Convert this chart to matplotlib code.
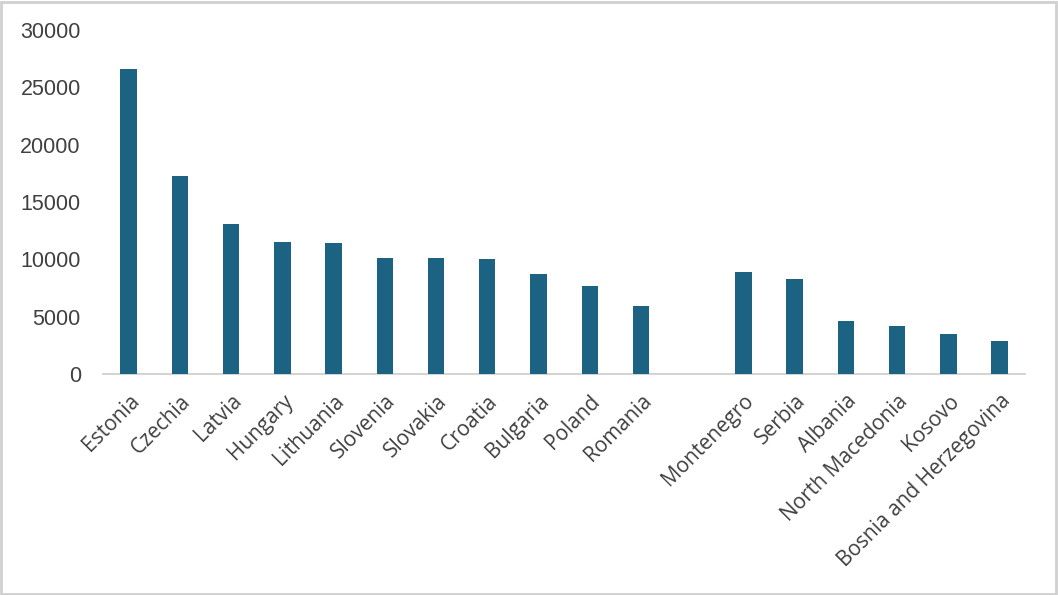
import matplotlib
matplotlib.use("Agg")
import matplotlib.pyplot as plt
import numpy as np
from matplotlib.patches import Rectangle

eu_countries = ["Estonia", "Czechia", "Latvia", "Hungary", "Lithuania", "Slovenia",
                "Slovakia", "Croatia", "Bulgaria", "Poland", "Romania"]
eu_values = [26570, 17270, 13050, 11510, 11450, 10090, 10080, 10030, 8690, 7650, 5900]

wb_countries = ["Montenegro", "Serbia", "Albania", "North Macedonia", "Kosovo",
                "Bosnia and Herzegovina"]
wb_values = [8900, 8260, 4590, 4160, 3490, 2850]

y_ticks = [0, 5000, 10000, 15000, 20000, 25000, 30000]

plt.rcParams['font.family'] = ['Liberation Sans', 'DejaVu Sans']

fig = plt.figure(figsize=(10.58, 5.95), dpi=100)
ax = fig.add_axes([0.0974, 0.3714, 0.8716, 0.5782])

labels = eu_countries + wb_countries
values = eu_values + wb_values
pos = np.concatenate([np.arange(len(eu_countries)),
                      np.arange(len(wb_countries)) + len(eu_countries) + 1])

color = '#1B6283'
ax.bar(pos, values, width=0.32, color=color, zorder=3)

ax.set_xlim(-0.5, len(labels) + 0.5)
ax.set_ylim(0, 30000)
ax.set_yticks(y_ticks)
ax.set_yticklabels([str(v) for v in y_ticks], fontsize=15.5, color='#404040')
ax.set_xticks(pos)
ax.set_xticklabels(labels, rotation=45, ha='right', rotation_mode='anchor',
                   fontsize=15, color='#404040', family=['Open Sans', 'DejaVu Sans'])

for s in ['top', 'right', 'left']:
    ax.spines[s].set_visible(False)
ax.spines['bottom'].set_color('#d0d0d0')
ax.spines['bottom'].set_linewidth(1.3)
ax.tick_params(axis='both', length=0)
ax.tick_params(axis='y', pad=16)
ax.tick_params(axis='x', pad=12)

fig.patches.append(Rectangle((0.001, 0.002), 0.997, 0.995, transform=fig.transFigure,
                             fill=False, edgecolor='#d0d0d0', linewidth=2))

fig.savefig("out.png", dpi=100)
